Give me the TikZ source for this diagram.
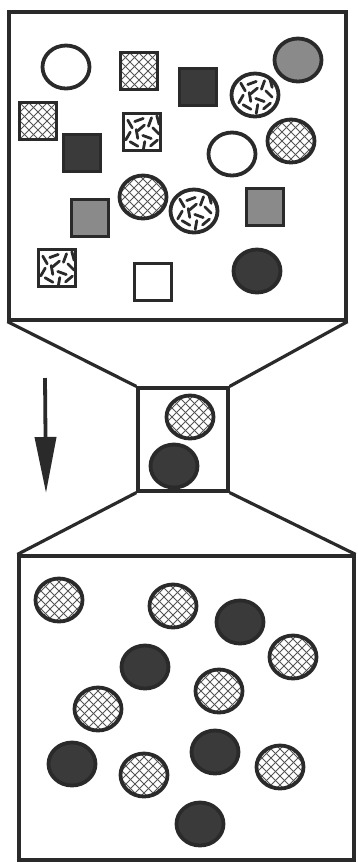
\documentclass[tikz,border=0pt]{standalone}
\usetikzlibrary{shapes.geometric,arrows.meta}
\definecolor{ink}{HTML}{2A2A2A}
\definecolor{darkfill}{HTML}{3A3A3A}
\definecolor{greyfill}{HTML}{8A8A8A}
\tikzset{
  box/.style={draw=ink,line width=3.2pt,rectangle,inner sep=0pt},
  ball/.style={ellipse,minimum width=47pt,minimum height=43pt,inner sep=0pt,draw=ink,line width=3.8pt},
  sq/.style={rectangle,minimum size=37pt,inner sep=0pt,draw=ink,line width=3.8pt},
  hatchfill/.style={fill=white,path picture={
      \begin{scope}[shift={(path picture bounding box.center)}]
        \foreach \k in {-5,...,5}{
          \draw[ink!80,line width=1pt] (\k*9-30,-30) -- (\k*9+30,30);
          \draw[ink!80,line width=1pt] (\k*9+30,-30) -- (\k*9-30,30);}
      \end{scope}}},
  wormfill/.style={fill=white,path picture={
      \begin{scope}[shift={(path picture bounding box.center)}]
        \foreach \x/\y/\a in {-12/-8/60,-3/-12/-20,8/-10/110,14/-1/45,-14/4/-60,-5/2/80,5/5/20,12/11/-40,-8/12/30,2/14/100,-1/-4/140,16/-12/75}
          \draw[ink,line width=2.8pt,line cap=round] (\x,\y) ++(\a:-4.5) -- ++(\a:9);
      \end{scope}}},
  darkball/.style={ball,fill=darkfill},
  greyball/.style={ball,fill=greyfill},
  whiteball/.style={ball,fill=white},
  hatchball/.style={ball,hatchfill},
  wormball/.style={ball,wormfill},
  darksq/.style={sq,fill=darkfill},
  greysq/.style={sq,fill=greyfill},
  whitesq/.style={sq,fill=white},
  hatchsq/.style={sq,hatchfill},
  wormsq/.style={sq,wormfill},
  funnel/.style={draw=ink,line width=3.2pt}
}
\begin{document}
\begin{tikzpicture}[x=1pt,y=-1pt]
\useasboundingbox (0,0) rectangle (357,863);
% boxes
\node[box,minimum width=337pt,minimum height=308pt] (top) at (177.5,166) {};
\node[box,minimum width=90pt,minimum height=103pt] (mid) at (183,439.5) {};
\node[box,minimum width=335pt,minimum height=304pt] (bot) at (186.5,708) {};
% funnel
\draw[funnel] (top.south west) -- (mid.north west);
\draw[funnel] (top.south east) -- (mid.north east);
\draw[funnel] (mid.south west) -- (bot.north west);
\draw[funnel] (mid.south east) -- (bot.north east);
% arrow
\coordinate (a1) at (45,378);
\coordinate (a2) at (46,493);
\draw[ink,line width=3.8pt,-{Triangle[width=21pt,length=56pt]}] (a1) -- (a2);
% top box contents
\node[whiteball] (t1) at (66,67) {};
\node[hatchsq] (t2) at (139,71) {};
\node[darksq] (t3) at (198,87) {};
\node[greyball] (t4) at (298,60) {};
\node[wormball] (t5) at (255,95) {};
\node[hatchsq] (t6) at (38,121) {};
\node[wormsq] (t7) at (142,132) {};
\node[darksq] (t8) at (82,153) {};
\node[whiteball] (t9) at (232,154) {};
\node[hatchball] (t10) at (291,141) {};
\node[hatchball] (t11) at (143,197) {};
\node[wormball] (t12) at (194,211) {};
\node[greysq] (t13) at (90,218) {};
\node[greysq] (t14) at (265,207) {};
\node[wormsq] (t15) at (57,268) {};
\node[whitesq] (t16) at (153,282) {};
\node[darkball] (t17) at (257,271) {};
% middle
\node[hatchball] (m1) at (190,417) {};
\node[darkball] (m2) at (174,466) {};
% bottom
\node[hatchball] (b1) at (59,600) {};
\node[hatchball] (b2) at (173,606) {};
\node[darkball] (b3) at (240,622) {};
\node[hatchball] (b4) at (293,657) {};
\node[darkball] (b5) at (145,667) {};
\node[hatchball] (b6) at (219,691) {};
\node[hatchball] (b7) at (98,709) {};
\node[darkball] (b8) at (72,764) {};
\node[hatchball] (b9) at (144,775) {};
\node[darkball] (b10) at (215,752) {};
\node[hatchball] (b11) at (280,767) {};
\node[darkball] (b12) at (200,824) {};
\end{tikzpicture}
\end{document}
